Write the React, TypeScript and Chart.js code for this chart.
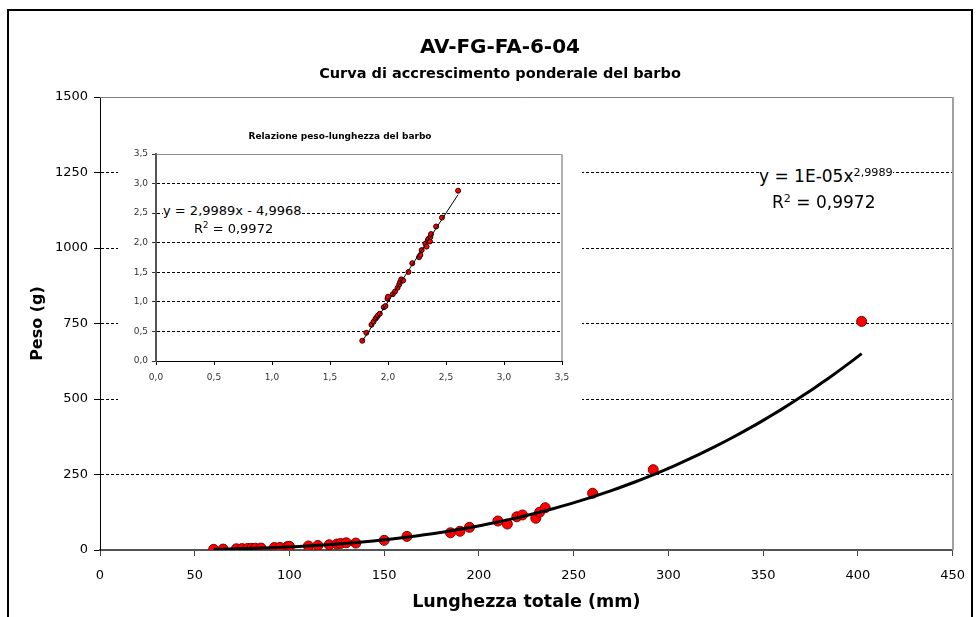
import React, { useEffect, useRef } from "react";
import { Chart, registerables } from "chart.js";

Chart.register(...registerables);

// ---- data ----
const lengthsMm = [60, 65, 72, 75, 78, 80, 82, 85, 92, 95, 99, 100, 110, 115, 121, 125, 127, 130, 135, 150, 162, 185, 190, 195, 210, 215, 220, 223, 230, 232, 235, 260, 292, 402];
const weightsG = [2.2, 3.0, 4.1, 4.6, 5.2, 5.5, 5.9, 6.3, 8.1, 8.5, 11.3, 12.2, 13.5, 15, 17.3, 19.7, 21.5, 24, 23, 32, 45, 57, 62, 75, 96, 86, 110, 116, 105, 125, 140, 188, 266, 757];

// trendline coefficients shown in the chart
const trendExponent = 2.9989;
const trendLogIntercept = -4.9968;
const trendR2 = "0,9972";

const mainTitle = "AV-FG-FA-6-04";
const mainSubtitle = "Curva di accrescimento ponderale del barbo";
const xAxisTitle = "Lunghezza totale (mm)";
const yAxisTitle = "Peso (g)";
const insetTitle = "Relazione peso-lunghezza del barbo";

const mainXRange = [0, 450];
const mainXStep = 50;
const mainYRange = [0, 1500];
const mainYStep = 250;
const insetRange = [0, 3.5];
const insetStep = 0.5;

const FONT = "'DejaVu Sans', Verdana, sans-serif";

const mainPoints = lengthsMm.map((x, i) => ({ x, y: weightsG[i] }));
const insetPoints = lengthsMm.map((x, i) => ({ x: Math.log10(x), y: Math.log10(weightsG[i]) }));

const minL = Math.min(...lengthsMm);
const maxL = Math.max(...lengthsMm);
const trendCoef = Math.pow(10, trendLogIntercept);
const mainTrend: { x: number; y: number }[] = [];
for (let i = 0; i <= 80; i++) {
  const x = minL + ((maxL - minL) * i) / 80;
  mainTrend.push({ x, y: trendCoef * Math.pow(x, trendExponent) });
}
const insetTrend = [Math.log10(minL), Math.log10(maxL)].map((x) => ({ x, y: trendExponent * x + trendLogIntercept }));

const commaFmt = (v: number) => v.toFixed(1).replace(".", ",");
const commaNum = (v: number) => String(v).replace(".", ",");

const frameBorder = (rightColor: string, topColor: string, rightW: number, topW: number) => ({
  id: "frameBorder",
  afterDatasetsDraw(chart: any) {
    const { ctx, chartArea } = chart;
    ctx.save();
    ctx.lineWidth = topW;
    ctx.strokeStyle = topColor;
    ctx.beginPath();
    ctx.moveTo(chartArea.left, Math.round(chartArea.top) + 0.5);
    ctx.lineTo(chartArea.right, Math.round(chartArea.top) + 0.5);
    ctx.stroke();
    ctx.lineWidth = rightW;
    ctx.strokeStyle = rightColor;
    ctx.beginPath();
    ctx.moveTo(Math.round(chartArea.right), chartArea.top);
    ctx.lineTo(Math.round(chartArea.right), chartArea.bottom);
    ctx.stroke();
    ctx.restore();
  },
});

const whiteBg = {
  id: "whiteBg",
  beforeDraw(chart: any) {
    const { ctx, width, height } = chart;
    ctx.save();
    ctx.fillStyle = "#fff";
    ctx.fillRect(0, 0, width, height);
    ctx.restore();
  },
};

export default function App() {
  const mainRef = useRef<HTMLCanvasElement>(null);
  const insetRef = useRef<HTMLCanvasElement>(null);

  useEffect(() => {
    const main = new Chart(mainRef.current!, {
      type: "scatter",
      data: {
        datasets: [
          {
            label: "Peso",
            data: mainPoints,
            backgroundColor: "#FF0000",
            borderColor: "#800000",
            borderWidth: 1,
            pointRadius: 5,
            order: 1,
          },
          {
            label: "Tendenza",
            type: "line",
            data: mainTrend,
            borderColor: "#000",
            borderWidth: 3,
            pointRadius: 0,
            fill: false,
            tension: 0,
            order: 0,
          } as any,
        ],
      },
      options: {
        responsive: false,
        animation: false,
        events: [],
        layout: { padding: { top: 97, right: 20, bottom: 0, left: 0 } },
        plugins: {
          legend: { display: false },
          tooltip: { enabled: false },
          title: { display: false },
        },
        scales: {
          x: {
            type: "linear",
            min: mainXRange[0],
            max: mainXRange[1],
            afterFit: (s: any) => { s.height = 67; },
            ticks: { stepSize: mainXStep, color: "#000", font: { family: FONT, size: 13 }, padding: 12, callback: (v: any) => String(v) },
            grid: { drawOnChartArea: false, drawTicks: true, tickLength: 6, tickColor: "#444", tickWidth: 1 },
            border: { color: "#555", width: 2 },
            title: { display: true, text: xAxisTitle, color: "#000", font: { family: FONT, size: 17.5, weight: "bold" }, padding: { top: 0, bottom: 4 } },
          },
          y: {
            type: "linear",
            min: mainYRange[0],
            max: mainYRange[1],
            afterFit: (s: any) => { s.width = 100; },
            ticks: { stepSize: mainYStep, color: "#000", font: { family: FONT, size: 13 }, padding: 6, callback: (v: any) => String(v) },
            grid: {
              color: (c: any) => (c.tick && (c.tick.value === mainYRange[0] || c.tick.value === mainYRange[1]) ? "rgba(0,0,0,0)" : "#000"),
              lineWidth: 1,
              drawTicks: true,
              tickLength: 6,
              tickColor: "#000",
              tickBorderDash: [],
            } as any,
            border: { color: "#000", width: 1, dash: [3, 2] },
            title: { display: true, text: yAxisTitle, color: "#000", font: { family: FONT, size: 16, weight: "bold" }, padding: { top: 28, bottom: 0 } },
          },
        },
      },
      plugins: [frameBorder("#a0a0a0", "#808080", 2, 1)],
    });

    const inset = new Chart(insetRef.current!, {
      type: "scatter",
      data: {
        datasets: [
          {
            label: "log",
            data: insetPoints,
            backgroundColor: "#FF0000",
            borderColor: "#300000",
            borderWidth: 1,
            pointRadius: 2.5,
            order: 1,
          },
          {
            label: "Lineare",
            type: "line",
            data: insetTrend,
            borderColor: "#000",
            borderWidth: 1,
            pointRadius: 0,
            fill: false,
            order: 0,
          } as any,
        ],
      },
      options: {
        responsive: false,
        animation: false,
        events: [],
        layout: { padding: { top: 0, right: 20, bottom: 0, left: 0 } },
        plugins: {
          legend: { display: false },
          tooltip: { enabled: false },
          title: {
            display: true,
            text: insetTitle,
            color: "#000",
            font: { family: FONT, size: 9, weight: "bold" },
            padding: { top: 11.6, bottom: 11.6 },
          },
        },
        scales: {
          x: {
            type: "linear",
            min: insetRange[0],
            max: insetRange[1],
            afterFit: (s: any) => { s.height = 47; },
            ticks: { stepSize: insetStep, color: "#333", font: { family: FONT, size: 9 }, padding: 7, callback: (v: any) => commaFmt(Number(v)) },
            grid: { drawOnChartArea: false, drawTicks: true, tickLength: 4, tickColor: "#000" },
            border: { color: "#000", width: 1 },
          },
          y: {
            type: "linear",
            min: insetRange[0],
            max: insetRange[1],
            afterFit: (s: any) => { s.width = 38; },
            ticks: { stepSize: insetStep, color: "#333", font: { family: FONT, size: 9 }, padding: 4, callback: (v: any) => commaFmt(Number(v)) },
            grid: {
              color: (c: any) => (c.tick && (c.tick.value === insetRange[0] || c.tick.value === insetRange[1]) ? "rgba(0,0,0,0)" : "#000"),
              lineWidth: 1,
              drawTicks: true,
              tickLength: 4,
              tickColor: "#333",
              tickBorderDash: [],
            } as any,
            border: { color: "#555", width: 2, dash: [3, 2] },
          },
        },
      },
      plugins: [whiteBg, frameBorder("#b0b0b0", "#909090", 2, 1)],
    });

    return () => {
      main.destroy();
      inset.destroy();
    };
  }, []);

  const sup: React.CSSProperties = { fontSize: "0.66em", position: "relative", top: "-0.55em", verticalAlign: "baseline", lineHeight: 0 };

  return (
    <div style={{ position: "absolute", left: 0, top: 0, width: 977, height: 617, overflow: "hidden", background: "#fff" }}>
      <div style={{ position: "absolute", left: 7, top: 9, width: 966, height: 700, border: "2px solid #000", boxSizing: "border-box" }} />
      <canvas ref={mainRef} width={977} height={617} style={{ position: "absolute", left: 0, top: 0, width: 977, height: 617 }} />
      <div style={{ position: "absolute", left: 250, width: 500, top: 34, textAlign: "center", font: `bold 20px ${FONT}`, lineHeight: "24px", color: "#000" }}>
        {mainTitle}
      </div>
      <div style={{ position: "absolute", left: 250, width: 500, top: 64, textAlign: "center", font: `bold 14.5px ${FONT}`, lineHeight: "18px", color: "#000", whiteSpace: "nowrap" }}>
        {mainSubtitle}
      </div>
      <canvas ref={insetRef} width={464} height={288} style={{ position: "absolute", left: 118, top: 120, width: 464, height: 288 }} />
      <div style={{ position: "absolute", left: 759, top: 166, font: `17px ${FONT}`, lineHeight: "20px", background: "#fff", whiteSpace: "nowrap", color: "#000" }}>
        y = 1E-05x<span style={sup}>{commaNum(trendExponent)}</span>
      </div>
      <div style={{ position: "absolute", left: 772, top: 192, font: `17px ${FONT}`, lineHeight: "20px", whiteSpace: "nowrap", color: "#000" }}>
        R<span style={sup}>2</span> = {trendR2}
      </div>
      <div style={{ position: "absolute", left: 163, top: 203, font: `13px ${FONT}`, lineHeight: "16px", background: "#fff", whiteSpace: "nowrap", color: "#000" }}>
        y = {commaNum(trendExponent)}x - {commaNum(-trendLogIntercept)}
      </div>
      <div style={{ position: "absolute", left: 194, top: 221, font: `13px ${FONT}`, lineHeight: "16px", whiteSpace: "nowrap", color: "#000" }}>
        R<span style={sup}>2</span> = {trendR2}
      </div>
    </div>
  );
}
